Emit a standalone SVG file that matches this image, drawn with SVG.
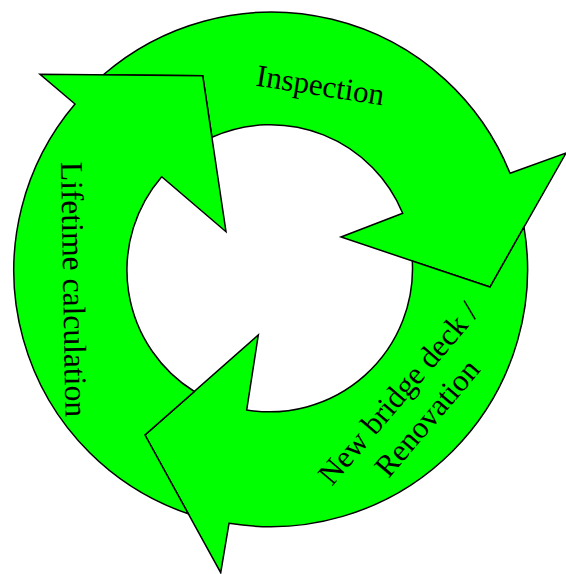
<svg xmlns="http://www.w3.org/2000/svg" width="566" height="574" viewBox="0 0 566 574">
<style>
.arrow{fill:#00ff00;stroke:#000;stroke-width:1.5;stroke-linejoin:miter}
.lbl{font-family:"Liberation Serif","Times New Roman",serif;font-size:31px;fill:#000}
</style>
<rect width="566" height="574" fill="#fff"/>
<g id="inspection">
<path class="arrow" d="M103.3,74.8 A257,257 0 0 1 510,173.3 L566,153 L490,287 L341,237 L402.7,213.3 A143,143 0 0 0 211.9,137.3 L202.7,75.7 Z"/>
<text class="lbl" transform="translate(255,85.5) rotate(8.9)">Inspection</text>
</g>
<g id="renovation">
<path class="arrow" d="M524,227 A257,257 0 0 1 229,523.3 L220.7,572.7 L145,435 L258.3,335 L246.7,410 A143,143 0 0 0 412.3,261 L490,287 Z"/>
<text class="lbl" text-anchor="middle" transform="translate(406,400) rotate(-49.5)"><tspan x="0" y="0">New bridge deck /</tspan><tspan x="0" y="38">Renovation</tspan></text>
</g>
<g id="lifetime">
<path class="arrow" d="M188.3,513.8 A257,257 0 0 1 75,104 L40,74.3 L202.7,75.7 L226,231.7 L161.7,176.7 A143,143 0 0 0 194.3,391.5 L145,435 Z"/>
<text class="lbl" style="font-size:31.6px" transform="translate(61,162) rotate(89)">Lifetime calculation</text>
</g>
</svg>
